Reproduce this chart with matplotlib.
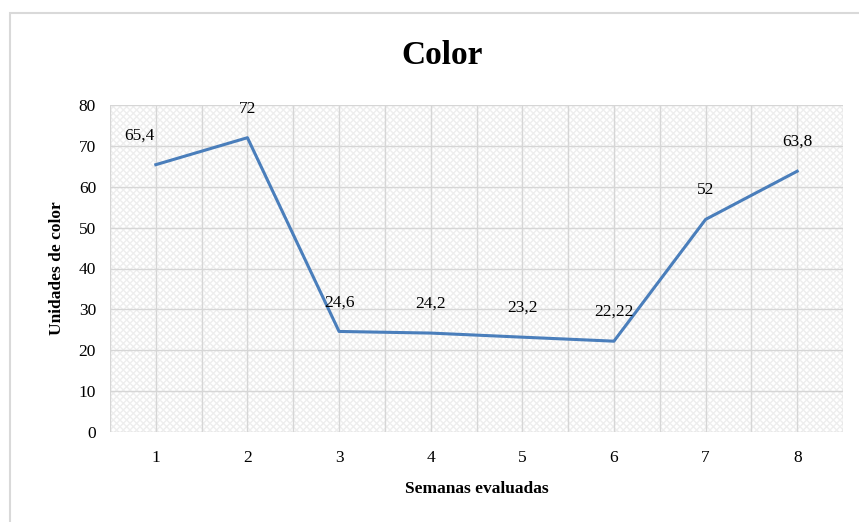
import matplotlib
matplotlib.use("Agg")
import matplotlib.pyplot as plt
from matplotlib.patches import Rectangle

semanas = [1, 2, 3, 4, 5, 6, 7, 8]
color_vals = [65.4, 72, 24.6, 24.2, 23.2, 22.22, 52, 63.8]
etiquetas = ["65,4", "72", "24,6", "24,2", "23,2", "22,22", "52", "63,8"]
yticks = [0, 10, 20, 30, 40, 50, 60, 70, 80]

plt.rcParams['font.family'] = ['Liberation Serif', 'DejaVu Serif']

W, H = 859, 522
fig = plt.figure(figsize=(W / 100, H / 100), dpi=100)

# chart border
fig.patches.append(Rectangle((10 / W, -0.05), 1.0, 1.05 - 13 / H, transform=fig.transFigure,
                             fill=False, edgecolor='#d9d9d9', linewidth=1.5))

ax = fig.add_axes([110 / W, 1 - 432 / H, 733 / W, (432 - 105) / H])
ax.set_xlim(0.5, 8.5)
ax.set_ylim(0, 80)

# textured background
ax.add_patch(Rectangle((0.5, 0), 8, 80, facecolor='white', edgecolor='#eeeeee',
                       hatch='xxxxx', linewidth=0, zorder=0))

for x in [i * 0.5 + 0.5 for i in range(17)]:
    ax.axvline(x, color='#d6d6d6', linewidth=1, zorder=1)
for y in yticks:
    ax.axhline(y, color='#d6d6d6', linewidth=1, zorder=1)

ax.plot(semanas, color_vals, color='#4a7ebb', linewidth=2.2, zorder=3)

for i, (x, y, t) in enumerate(zip(semanas, color_vals, etiquetas)):
    dx = -12 if i == 0 else 0
    ax.annotate(t, (x, y), xytext=(dx, 21), textcoords='offset points',
                ha='center', va='center', fontsize=12.5, zorder=4)

ax.set_xticks(semanas)
ax.set_yticks(yticks)
ax.tick_params(axis='x', length=0, labelsize=12.5, pad=13)
ax.tick_params(axis='y', length=0, labelsize=12.5, pad=10)
for s in ax.spines.values():
    s.set_visible(False)

ax.set_xlabel('Semanas evaluadas', fontsize=12.5, fontweight='bold', labelpad=11)
ax.set_ylabel('Unidades de color', fontsize=12.5, fontweight='bold', labelpad=10)
fig.text(0.515, 1 - 55 / H, 'Color', ha='center', va='center', fontsize=24, fontweight='bold')

fig.savefig('out.png', dpi=100)
